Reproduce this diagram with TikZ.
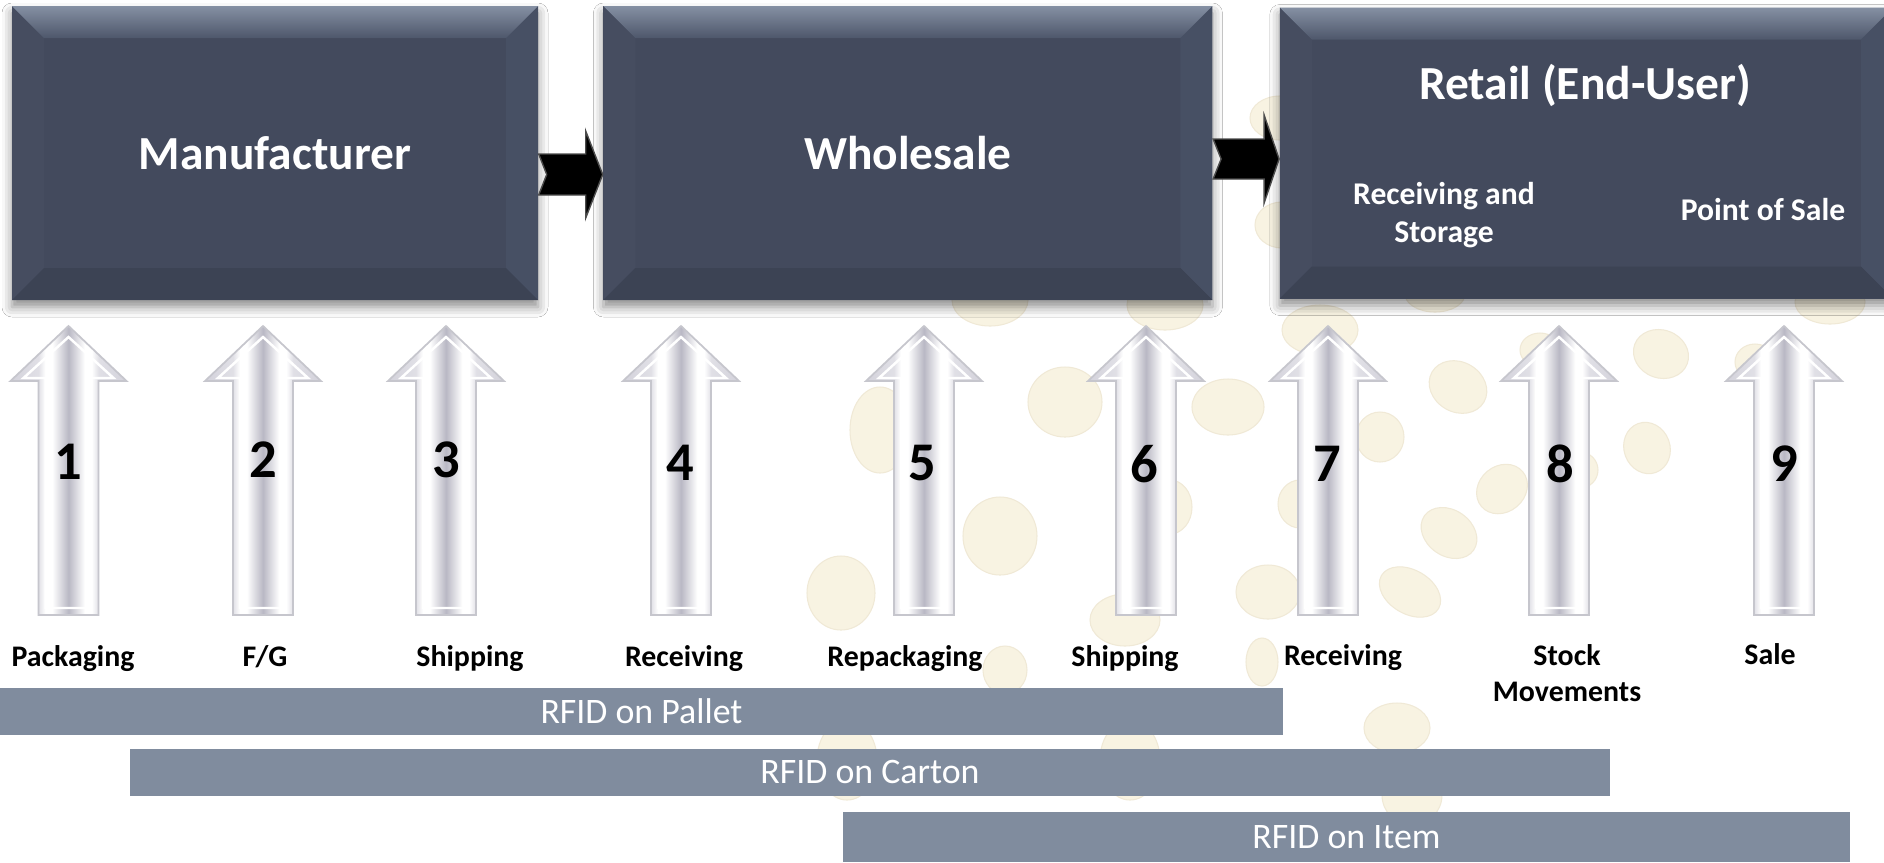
\documentclass[tikz,border=0pt]{standalone}
\usepackage{fontspec}
\setmainfont{Carlito}
\usepackage{tikz}
\usetikzlibrary{positioning,calc,shadows.blur}
\definecolor{slatebody}{HTML}{434A5D}
\definecolor{slatetop}{HTML}{8590A3}
\definecolor{slatemid}{HTML}{4E576B}
\definecolor{slateside}{HTML}{464D60}
\definecolor{slateright}{HTML}{475064}
\definecolor{slatelow}{HTML}{3C4354}
\definecolor{tagbar}{HTML}{808C9E}
\definecolor{dotfill}{HTML}{F8F3E2}
\definecolor{dotline}{HTML}{F0E9D6}
\definecolor{liftedge}{HTML}{D3D2DB}
\definecolor{liftmid}{HTML}{B9B8C4}
\pgfdeclarehorizontalshading{liftshade}{100bp}{color(0bp)=(liftedge); color(25bp)=(liftedge); color(37bp)=(liftedge!70!white); color(40bp)=(white); color(43bp)=(white); color(50bp)=(liftmid); color(57bp)=(white); color(60bp)=(white); color(63bp)=(liftedge!70!white); color(75bp)=(liftedge); color(100bp)=(liftedge)}

\begin{document}
\begin{tikzpicture}[
    stage/.style={rectangle, fill=slatebody, text=white, minimum height=2.94cm, inner sep=0pt,
        font=\fontsize{13.5}{16}\selectfont\bfseries,
        blur shadow={shadow xshift=0pt, shadow yshift=-0.7mm, shadow blur radius=1mm, shadow opacity=45},
        path picture={
            \path (path picture bounding box.north west) coordinate (bnw)
                  (path picture bounding box.north east) coordinate (bne)
                  (path picture bounding box.south east) coordinate (bse)
                  (path picture bounding box.south west) coordinate (bsw);
            \fill[slateside] (bnw) -- ([shift={(0.32,-0.32)}]bnw) -- ([shift={(0.32,0.32)}]bsw) -- (bsw) -- cycle;
            \fill[slateright] (bne) -- ([shift={(-0.32,-0.32)}]bne) -- ([shift={(-0.32,0.32)}]bse) -- (bse) -- cycle;
            \fill[slatelow] (bsw) -- ([shift={(0.32,0.32)}]bsw) -- ([shift={(-0.32,0.32)}]bse) -- (bse) -- cycle;
            \shade[top color=slatetop, bottom color=slatemid] (bnw) -- (bne) -- ([shift={(-0.32,-0.32)}]bne) -- ([shift={(0.32,-0.32)}]bnw) -- cycle;
        }},
    stagetitle/.style={text=white, inner sep=0pt, font=\fontsize{13.5}{16}\selectfont\bfseries},
    stagesub/.style={text=white, inner sep=0pt, align=center, font=\fontsize{9}{11}\selectfont\bfseries},
    linkarrow/.style={fill=black, draw=gray!60!black, line width=0.4pt},
    liftarrow/.style={draw=liftedge!85!gray, line width=0.5pt, shading=liftshade},
    liftrim/.style={draw=white, line width=0.7pt},
    stepnum/.style={inner sep=0pt, font=\fontsize{15.5}{18}\selectfont\bfseries},
    steplabel/.style={anchor=north, inner sep=0pt, align=center, font=\fontsize{8.5}{10.2}\selectfont\bfseries},
    rfidbar/.style={rectangle, fill=tagbar, text=white, inner sep=0pt, minimum height=0.47cm, font=\fontsize{10.2}{12}\selectfont},
    dot/.style={fill=dotfill, draw=dotline, line width=0.3pt}
]
\path[use as bounding box, fill=white] (0,0) rectangle (18.84,-8.62);

% background dots
\foreach \cx/\cy/\rx/\ry/\r in {12.80/-1.18/0.30/0.22/0, 12.82/-2.25/0.27/0.23/0, 9.90/-3.00/0.38/0.26/0,
    11.65/-3.05/0.38/0.25/0, 13.20/-3.30/0.38/0.25/0, 14.35/-2.94/0.30/0.18/0, 18.30/-3.02/0.35/0.22/0,
    8.80/-4.30/0.30/0.43/0, 10.65/-4.02/0.37/0.35/0, 12.28/-4.07/0.36/0.28/0, 10.00/-5.36/0.37/0.39/0,
    8.41/-5.93/0.34/0.37/0, 11.25/-6.20/0.35/0.26/0, 11.70/-5.07/0.22/0.27/0, 12.68/-5.92/0.32/0.27/0,
    13.00/-5.04/0.22/0.24/0, 14.58/-3.87/0.30/0.25/-30, 13.80/-4.37/0.24/0.25/0, 15.02/-4.89/0.27/0.23/40,
    14.49/-5.33/0.30/0.23/-35, 14.10/-5.92/0.33/0.22/-30, 15.40/-3.50/0.20/0.17/0, 15.80/-4.70/0.18/0.18/0,
    16.61/-3.54/0.28/0.24/-20, 16.47/-4.48/0.23/0.26/20, 17.55/-3.62/0.20/0.18/0, 10.05/-6.70/0.22/0.24/0,
    12.62/-6.62/0.16/0.24/0, 13.97/-7.28/0.33/0.25/0, 8.47/-7.60/0.30/0.40/0, 11.30/-7.60/0.30/0.40/0,
    14.12/-7.95/0.30/0.30/0} {
    \draw[dot, rotate around={\r:(\cx,\cy)}] (\cx,\cy) ellipse [x radius=\rx, y radius=\ry];
}

% supply chain stages
\node[stage, minimum width=5.26cm] (man) at (2.75,-1.53) {Manufacturer};
\node[stage, minimum width=6.09cm, right=0.64cm of man] (whole) {Wholesale};
\node[stage, minimum width=6.13cm, minimum height=2.91cm, right=0.66cm of whole] (retail) {};
\node[stagetitle] (rtitle) at (15.85,-0.85) {Retail (End-User)};
\node[stagesub] (rrecv) at (14.44,-2.15) {Receiving and\\Storage};
\node[stagesub] (rpos) at (17.63,-2.10) {Point of Sale};

% links between stages
\path ([yshift=-2.15mm]man.east) coordinate (a1s) (a1s -| whole.west) coordinate (a1e);
\path ([yshift=-0.6mm]whole.east) coordinate (a2s) (a2s -| retail.west) coordinate (a2e);
\draw[linkarrow] ([shift={(0,0.205)}]a1s) -- ([shift={(-0.17,0.205)}]a1e) -- ([shift={(-0.17,0.435)}]a1e) -- (a1e)
    -- ([shift={(-0.17,-0.435)}]a1e) -- ([shift={(-0.17,-0.205)}]a1e) -- ([shift={(0,-0.205)}]a1s) -- ([shift={(0.08,0)}]a1s) -- cycle;
\draw[linkarrow] ([shift={(0,0.20)}]a2s) -- ([shift={(-0.15,0.20)}]a2e) -- ([shift={(-0.15,0.44)}]a2e) -- (a2e)
    -- ([shift={(-0.15,-0.44)}]a2e) -- ([shift={(-0.15,-0.20)}]a2e) -- ([shift={(0,-0.20)}]a2s) -- ([shift={(0.08,0)}]a2s) -- cycle;

% tag read points
\foreach \x in {0.685,2.63,4.46,6.81,9.24,11.46,13.28,15.59,17.84} {
    \shadedraw[liftarrow] (\x,-3.26) -- (\x+0.58,-3.81) -- (\x+0.30,-3.81) -- (\x+0.30,-6.15)
        -- (\x-0.30,-6.15) -- (\x-0.30,-3.81) -- (\x-0.58,-3.81) -- cycle;
    \draw[liftrim] (\x,-3.37) -- (\x+0.45,-3.78) -- (\x+0.23,-3.78) -- (\x+0.23,-6.08)
        -- (\x-0.23,-6.08) -- (\x-0.23,-3.78) -- (\x-0.45,-3.78) -- cycle;
}
\node[stepnum] (s1) at (0.685,-4.62) {1};
\node[stepnum] (s2) at (2.63,-4.60) {2};
\node[stepnum] (s3) at (4.46,-4.60) {3};
\node[stepnum] (s4) at (6.80,-4.63) {4};
\node[stepnum] (s5) at (9.22,-4.63) {5};
\node[stepnum] (s6) at (11.44,-4.64) {6};
\node[stepnum] (s7) at (13.27,-4.64) {7};
\node[stepnum] (s8) at (15.60,-4.64) {8};
\node[stepnum] (s9) at (17.84,-4.64) {9};

\node[steplabel] (l1) at (0.73,-6.45) {Packaging};
\node[steplabel] (l2) at (2.65,-6.45) {F/G};
\node[steplabel] (l3) at (4.70,-6.45) {Shipping};
\node[steplabel] (l4) at (6.84,-6.45) {Receiving};
\node[steplabel] (l5) at (9.05,-6.45) {Repackaging};
\node[steplabel] (l6) at (11.25,-6.45) {Shipping};
\node[steplabel] (l7) at (13.43,-6.44) {Receiving};
\node[steplabel] (l8) at (15.67,-6.44) {Stock\\Movements};
\node[steplabel] (l9) at (17.70,-6.43) {Sale};

% RFID levels
\node[rfidbar, minimum width=12.83cm] (pallet) at (6.415,-7.115) {RFID on Pallet};
\node[rfidbar, minimum width=14.80cm] (carton) at (8.70,-7.72) {RFID on Carton};
\node[rfidbar, minimum width=10.07cm, minimum height=0.50cm] (item) at (13.465,-8.37) {RFID on Item};
\end{tikzpicture}
\end{document}
